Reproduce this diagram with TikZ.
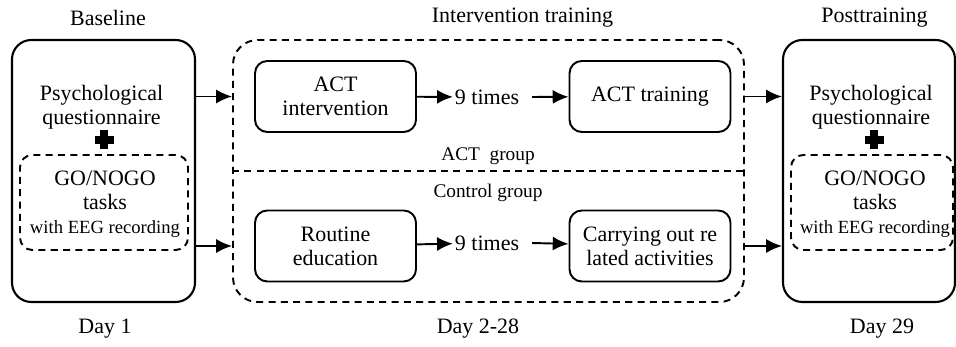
\documentclass[tikz,border=0pt]{standalone}
\usepackage{fontspec}
\setmainfont{Liberation Serif}
\usetikzlibrary{arrows.meta}
\begin{document}
\begin{tikzpicture}
		\tikzset{every node/.style = {font=\fontsize{12.5}{13.8}\selectfont}}
		\tikzset{vertex/.style = {draw, line width=1.1pt, rounded corners=7pt, minimum width=3.22cm, minimum height=1.42cm, align=center, inner sep=0pt}}
		\tikzset{phase/.style = {draw, line width=1.2pt, rounded corners=11pt, minimum height=5.24cm, inner sep=0pt}}
		\tikzset{group/.style = {draw, line width=1.1pt, dash pattern=on 4pt off 3pt, rounded corners=14pt, minimum width=10.22cm, minimum height=5.24cm, inner sep=0pt}}
		\tikzset{task/.style = {draw, line width=1.1pt, dash pattern=on 4pt off 3pt, rounded corners=7pt, minimum height=1.9cm, inner sep=0pt}}
		\tikzset{txt/.style = {align=center, inner sep=1pt}}
		\tikzset{edge/.style = {-{Latex[length=9pt,width=8pt]}, line width=1.1pt}}
		\tikzset{cross/.style = {line width=0.16cm}}
		
		\useasboundingbox (0,0) rectangle (19.12,6.94);
		
		% phases
		\node[phase, minimum width=3.66cm]  (base) at ( 2.07, 3.52) {};
		\node[group]                        (inter) at ( 9.77, 3.52) {};
		\node[phase, minimum width=3.44cm]  (post) at (17.38, 3.52) {};
		
		\node[txt]  (t1) at ( 2.16, 6.58) {Baseline};
		\node[txt]  (t2) at (10.45, 6.58) {Intervention training};
		\node[txt]  (t3) at (17.49, 6.58) {Posttraining};
		\node[txt]  (d1) at ( 2.10, 0.36) {Day 1};
		\node[txt]  (d2) at ( 9.56, 0.36) {Day 2-28};
		\node[txt]  (d3) at (17.64, 0.36) {Day 29};
		
		% baseline
		\node[txt]  (psy1) at ( 2.03, 4.80) {Psychological\\questionnaire};
		\coordinate (plus1) at ( 2.08, 4.14);
		\draw[cross] (plus1) +(-0.19,0) -- +(0.19,0) (plus1) +(0,-0.19) -- +(0,0.19);
		\node[task, minimum width=3.36cm]  (go1) at ( 2.08, 2.89) {};
		\node[txt]  (gotxt1) at ( 2.10, 2.86) {GO/NOGO\\tasks\\{\fontsize{10.6}{12}\selectfont with EEG recording}};
		
		% posttraining
		\node[txt]  (psy2) at (17.42, 4.80) {Psychological\\questionnaire};
		\coordinate (plus2) at (17.48, 4.14);
		\draw[cross] (plus2) +(-0.19,0) -- +(0.19,0) (plus2) +(0,-0.19) -- +(0,0.19);
		\node[task, minimum width=3.24cm]  (go2) at (17.44, 2.89) {};
		\node[txt]  (gotxt2) at (17.50, 2.86) {GO/NOGO\\tasks\\{\fontsize{10.6}{12}\selectfont with EEG recording}};
		
		% intervention
		\draw[line width=1.1pt, dash pattern=on 4pt off 3pt] (inter.west) -- (inter.east);
		\node[txt, font=\fontsize{11}{12}\selectfont]  (g1) at ( 9.76, 3.82) {ACT\ \ group};
		\node[txt, font=\fontsize{11}{12}\selectfont]  (g2) at ( 9.76, 3.08) {Control group};
		
		\node[vertex]  (actint) at ( 6.71, 5.01) {ACT\\intervention};
		\node[txt]     (n1)     at ( 9.74, 5.00) {9 times};
		\node[vertex]  (acttr)  at (13.00, 5.01) {ACT training};
		\node[vertex]  (rout)   at ( 6.71, 2.02) {Routine\\education};
		\node[txt]     (n2)     at ( 9.74, 2.08) {9 times};
		\node[vertex]  (carry)  at (13.00, 2.02) {Carrying out re\\lated activities};
		\coordinate (n1r) at ([xshift=0.22cm]n1.east);
		\coordinate (n2r) at ([xshift=0.22cm]n2.east);
		
		\draw[edge] (actint) to (n1);
		\draw[edge] (n1r) to (acttr);
		\draw[edge] (rout) to (n2);
		\draw[edge] (n2r) to (carry);
		
		\draw[edge] (base.east |- actint) to (inter.west |- actint);
		\draw[edge] (base.east |- rout) to (inter.west |- rout);
		\draw[edge] (inter.east |- acttr) to (post.west |- acttr);
		\draw[edge] (inter.east |- carry) to (post.west |- carry);
		\end{tikzpicture}
\end{document}
